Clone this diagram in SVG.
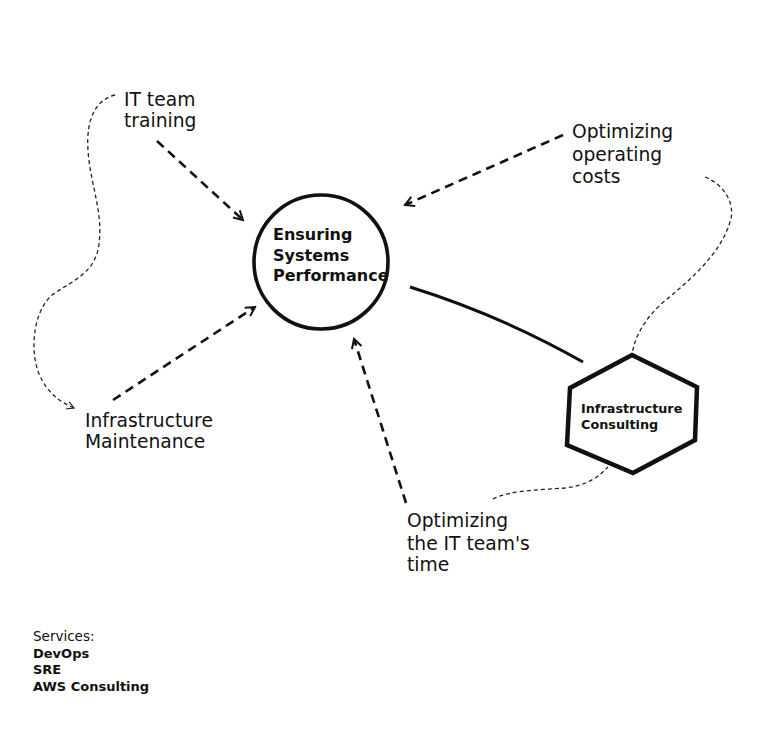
<svg xmlns="http://www.w3.org/2000/svg" width="768" height="743" viewBox="0 0 768 743">
<style>
.lbl{font-family:"DejaVu Sans","Liberation Sans",sans-serif;font-size:18.7px;fill:#111}
.bold{font-family:"DejaVu Sans","Liberation Sans",sans-serif;font-weight:bold;fill:#111}
.arr{fill:none;stroke:#111;stroke-width:2.6;stroke-dasharray:9 6}
.thin{fill:none;stroke:#222;stroke-width:1.3;stroke-dasharray:4 3}
.shape{fill:#fff;stroke:#111;stroke-linejoin:miter}
</style>
<defs>
<marker id="ah" viewBox="0 0 12 12" refX="10" refY="6" markerWidth="12" markerHeight="12" markerUnits="userSpaceOnUse" orient="auto">
<path d="M1,1 L10,6 L1,11" fill="none" stroke="#111" stroke-width="2"/>
</marker>
<marker id="ahs" viewBox="0 0 12 12" refX="10" refY="6" markerWidth="9" markerHeight="9" markerUnits="userSpaceOnUse" orient="auto">
<path d="M1,1 L10,6 L1,11" fill="none" stroke="#222" stroke-width="1.6"/>
</marker>
</defs>
<rect width="768" height="743" fill="#fff"/>
<g id="connectors">
<path class="arr" d="M157,141 L243,220" marker-end="url(#ah)"/>
<path class="arr" d="M563,135 L405,205" marker-end="url(#ah)"/>
<path class="arr" d="M113,400 L255,307" marker-end="url(#ah)"/>
<path class="arr" d="M406,503 L354,339" marker-end="url(#ah)"/>
<path d="M410,287 Q500,315 583,362" fill="none" stroke="#111" stroke-width="3"/>
<path class="thin" d="M115,95 C95,100 86,120 88,150 C90,185 105,215 98,250 C92,275 70,282 52,295 C30,315 30,360 42,380 C50,395 62,403 74,408" marker-end="url(#ahs)"/>
<path class="thin" d="M705,177 C725,185 736,205 730,222 C720,255 690,280 660,305 C645,320 635,335 632,355"/>
<path class="thin" d="M493,499 C510,490 540,490 565,488 C590,485 600,475 608,467"/>
</g>
<g id="node-center">
<circle class="shape" stroke-width="3.6" cx="321" cy="262" r="67"/>
<text class="bold" font-size="16" x="273" y="240">Ensuring</text>
<text class="bold" font-size="16" x="273" y="261">Systems</text>
<text class="bold" font-size="16" x="273" y="281">Performance</text>
</g>
<g id="node-consulting">
<path class="shape" stroke-width="4.5" d="M632,355 L697,387 L695,440 L633,473 L567,445 L570,388 Z"/>
<text class="bold" font-size="12.8" x="581" y="413">Infrastructure</text>
<text class="bold" font-size="12.8" x="581" y="429">Consulting</text>
</g>
<g id="node-training">
<text class="lbl" x="124" y="106">IT team</text>
<text class="lbl" x="124" y="127">training</text>
</g>
<g id="node-costs">
<text class="lbl" x="572" y="138">Optimizing</text>
<text class="lbl" x="572" y="161">operating</text>
<text class="lbl" x="572" y="183">costs</text>
</g>
<g id="node-maintenance">
<text class="lbl" x="85" y="427">Infrastructure</text>
<text class="lbl" x="85" y="448">Maintenance</text>
</g>
<g id="node-time">
<text class="lbl" x="407" y="527">Optimizing</text>
<text class="lbl" x="407" y="550">the IT team's</text>
<text class="lbl" x="407" y="571">time</text>
</g>
<g id="services">
<text class="lbl" x="33" y="641" style="font-size:13.5px">Services:</text>
<text class="bold" font-size="13" x="33" y="658">DevOps</text>
<text class="bold" font-size="13" x="33" y="674">SRE</text>
<text class="bold" font-size="13" x="33" y="691">AWS Consulting</text>
</g>
</svg>
